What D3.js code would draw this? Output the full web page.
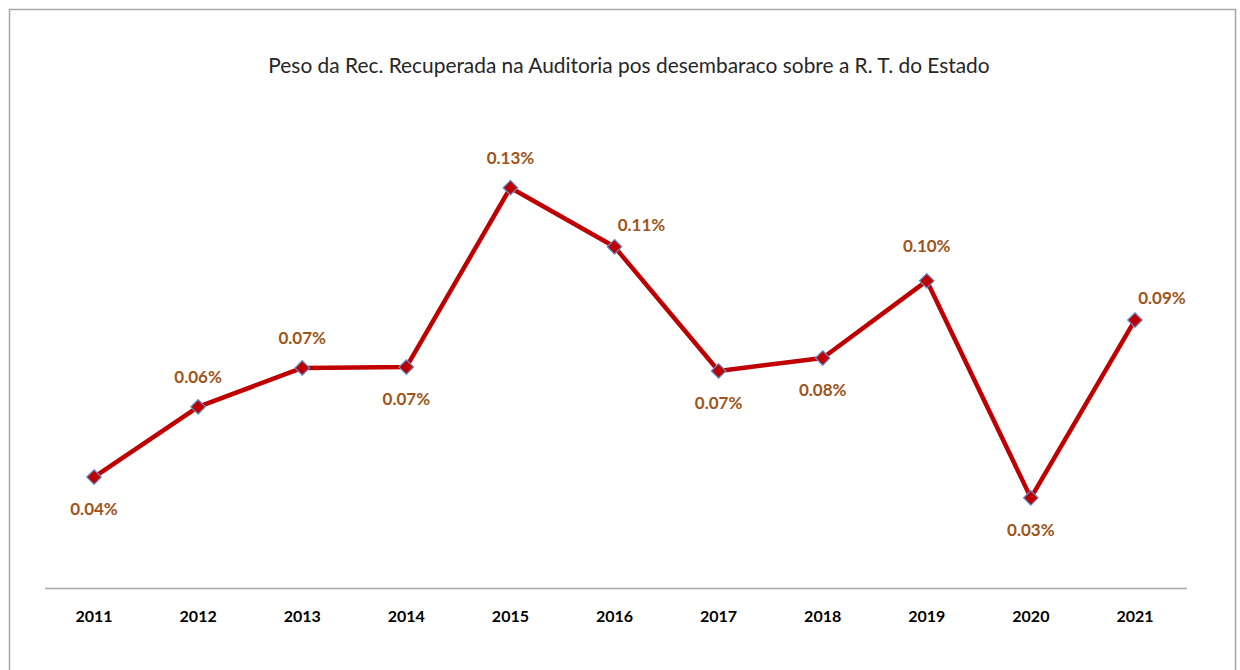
<!DOCTYPE html>
<html>
<head>
<meta charset="utf-8">
<script src="https://cdn.jsdelivr.net/npm/d3@7"></script>
<style>
  html, body { margin: 0; padding: 0; background: #fff; }
  svg { display: block; }
  text { font-family: Lato, "Open Sans", sans-serif; }
</style>
</head>
<body>
<svg id="chart" width="1240" height="670"></svg>
<script>
// Share of audit-recovered revenue (post-clearance) over the State's tax revenue
const years = ["2011", "2012", "2013", "2014", "2015", "2016", "2017", "2018", "2019", "2020", "2021"];
const shares = [0.000368, 0.000601, 0.000730, 0.000733, 0.001328, 0.001132, 0.000720, 0.000763, 0.001019, 0.000299, 0.000889];
// Where each value label sits relative to its point
const labelPlacement = ["below", "above", "above", "below", "above", "aboveRight", "below", "below", "aboveFar", "below", "aboveRight"];
const title = "Peso da Rec. Recuperada na Auditoria pos desembaraco sobre a R. T. do Estado";

const svg = d3.select("#chart");

// Chart frame
svg.append("rect")
  .attr("x", 9.5).attr("y", 9.5)
  .attr("width", 1226).attr("height", 680)
  .attr("fill", "#fff").attr("stroke", "#a6a6a6").attr("stroke-width", 1.5);

const plot = { left: 42, right: 1187, top: 166, bottom: 588 };

const x = d3.scaleBand().domain(years).range([plot.left, plot.right]).padding(0);
const y = d3.scaleLinear().domain([0, 0.0014]).range([plot.bottom, plot.top]);
const cx = d => x(d) + x.bandwidth() / 2;

// Title, sized to span its line
const t = svg.append("text")
  .attr("x", 629).attr("y", 73)
  .attr("text-anchor", "middle")
  .attr("fill", "#262626")
  .style("font-size", "20px")
  .text(title);
const tw = t.node().getComputedTextLength();
t.style("font-size", (20 * 722 / tw) + "px");

// Category axis
const xAxis = svg.append("g")
  .attr("transform", `translate(0,${plot.bottom + 0.5})`)
  .call(d3.axisBottom(x).tickSize(0).tickPadding(22));
xAxis.select(".domain").attr("stroke", "#a6a6a6").attr("stroke-width", 1.3)
  .attr("d", `M${plot.left + 3},0H${plot.right}`);
xAxis.selectAll("text")
  .attr("fill", "#000")
  .style("font-size", "16px")
  .style("font-weight", "bold")
  .style("font-family", "Lato, sans-serif");

const pts = years.map((yr, i) => ({ yr, v: shares[i], pos: labelPlacement[i] }));

// Series line
svg.append("path")
  .datum(pts)
  .attr("fill", "none")
  .attr("stroke", "#c00000")
  .attr("stroke-width", 4.5)
  .attr("stroke-linejoin", "round")
  .attr("d", d3.line().x(d => cx(d.yr)).y(d => y(d.v)));

// Diamond markers
svg.selectAll(".marker")
  .data(pts)
  .join("path")
  .attr("class", "marker")
  .attr("transform", d => `translate(${cx(d.yr)},${y(d.v)})`)
  .attr("d", d3.symbol().type(d3.symbolDiamond2).size(135))
  .attr("fill", "#c00000")
  .attr("stroke", "#5b8fd0")
  .attr("stroke-width", 1.2);

// Value labels
const fmt = d3.format(".2%");
const offset = {
  above: [0, -24],
  aboveFar: [0, -29],
  below: [0, 38],
  aboveRight: [27, -16]
};
svg.selectAll(".vlabel")
  .data(pts)
  .join("text")
  .attr("class", "vlabel")
  .attr("x", d => cx(d.yr) + offset[d.pos][0])
  .attr("y", d => y(d.v) + offset[d.pos][1])
  .attr("text-anchor", "middle")
  .attr("fill", "#a0541a")
  .style("font-size", "17px")
  .style("font-weight", "bold")
  .text(d => fmt(d.v));
</script>
</body>
</html>
